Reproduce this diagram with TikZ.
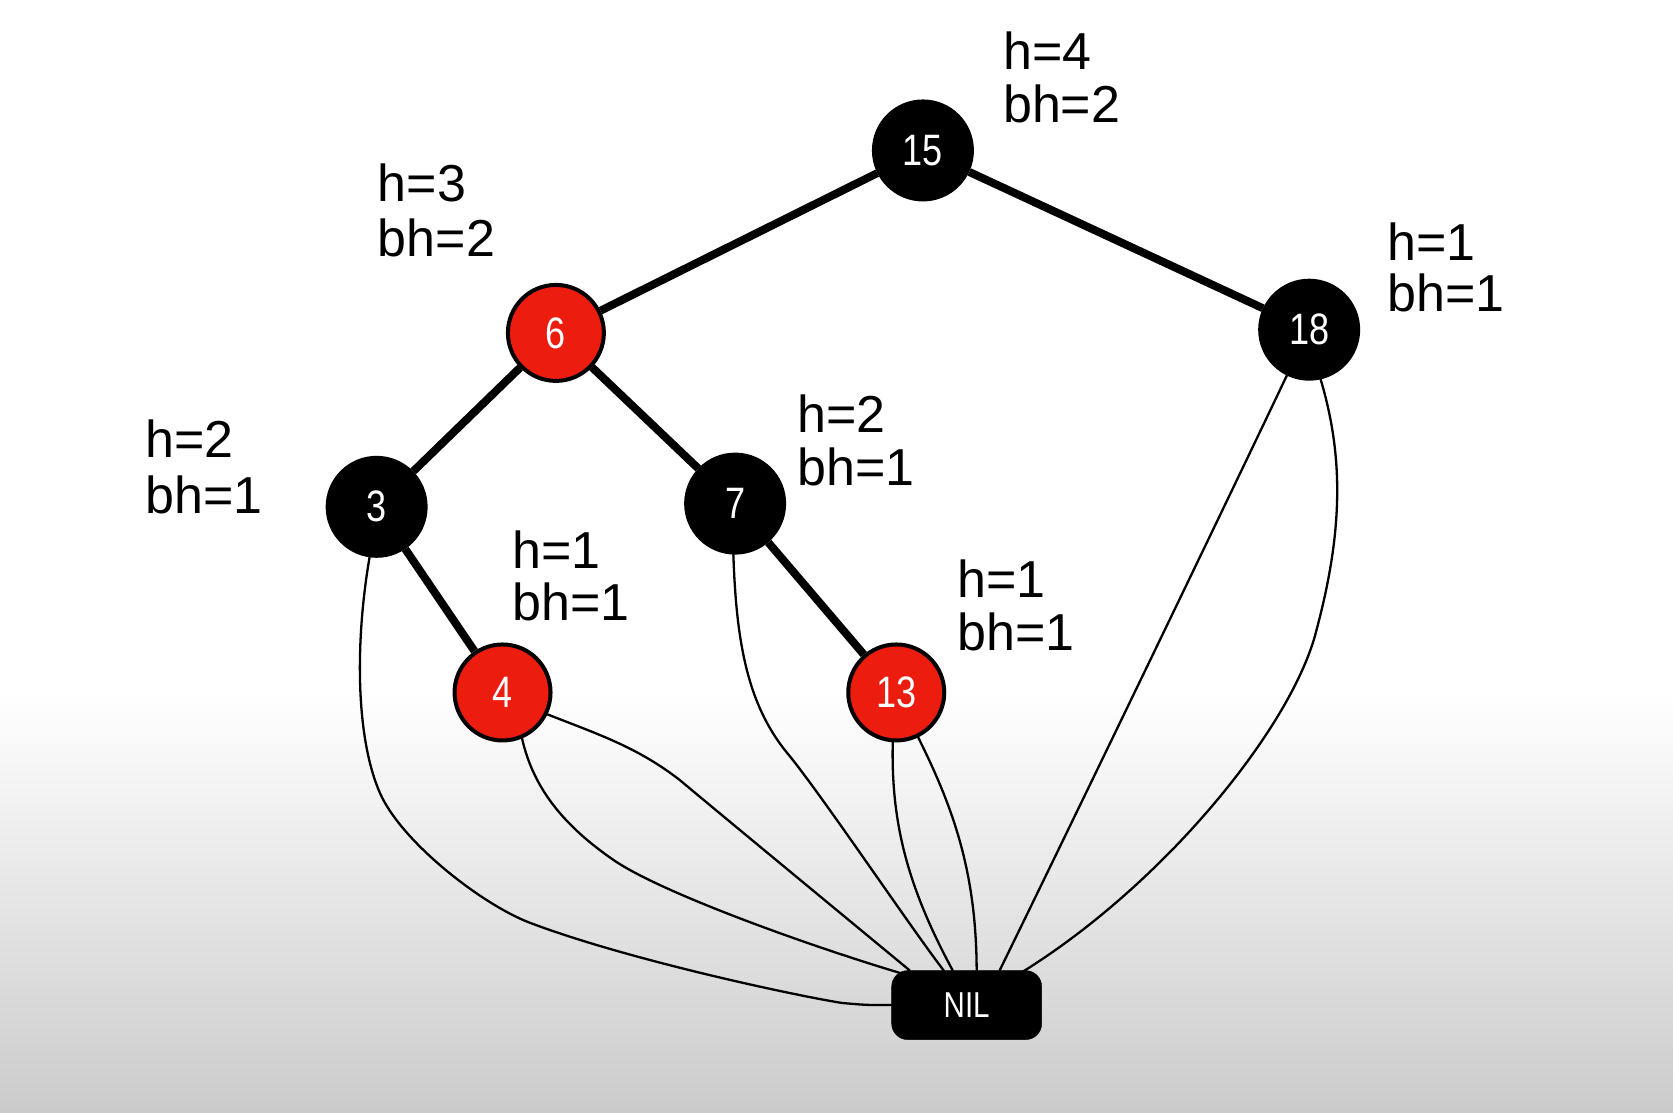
\documentclass[tikz,border=0pt]{standalone}
\usepackage{fontspec}
\setmainfont{Liberation Sans}
\newfontfamily\numfont[FakeStretch=0.82]{Liberation Sans}
\newfontfamily\lblfont{Liberation Sans}
\definecolor{nodered}{RGB}{236,28,14}
\definecolor{bggray}{RGB}{203,203,203}
\begin{document}
\begin{tikzpicture}[x=1.06696pt,y=-1.06696pt,
  treenode/.style={circle,draw=black,line width=4pt,minimum size=98pt,inner sep=0pt,text=white,font=\numfont\fontsize{44}{44}\selectfont},
  blacknode/.style={treenode,fill=black},
  rednode/.style={treenode,fill=nodered,minimum size=96pt},
  nilnode/.style={rectangle,rounded corners=16pt,fill=black,draw=black,minimum width=150pt,minimum height=69pt,inner sep=0pt,text=white,font=\numfont\fontsize{36}{36}\selectfont},
  lbl/.style={anchor=base west,inner sep=0pt,font=\lblfont\fontsize{52}{54}\selectfont},
  treeedge/.style={line width=8pt},
  nilline/.style={line width=2.3pt,line cap=round},
]
\useasboundingbox (0,0) rectangle (1568,1043);
\fill[white] (0,0) rectangle (1568,1043);
\shade[top color=white,bottom color=bggray] (0,650) rectangle (1568,1043);

% nodes
\node[blacknode] (n15) at (865,141) {15};
\node[rednode] (n6) at (521,312) {6};
\node[blacknode] (n18) at (1227,309) {18};
\node[blacknode] (n3) at (353,475) {3};
\node[blacknode] (n7) at (689,472) {7};
\node[rednode] (n4) at (471,649) {4};
\node[rednode] (n13) at (840,649) {13};
\node[nilnode] (nil) at (906,942) {NIL};

% tree edges
\draw[treeedge] (n15) -- (n6);
\draw[treeedge] (n15) -- (n18);
\draw[treeedge] (n6) -- (n3);
\draw[treeedge] (n6) -- (n7);
\draw[treeedge] (n3) -- (n4);
\draw[treeedge] (n7) -- (n13);

% NIL connectors
\draw[nilline] (n3.262) .. controls (333,600) and (333,690) .. (356,743)
  .. controls (376,789) and (452,848) .. (497,865)
  .. controls (587,899) and (740,932) .. (789,940)
  .. controls (812,942) .. (nil.west);
\draw[nilline] (n4.293) .. controls (500,740) and (530,775) .. (575,806)
  .. controls (620,837) and (760,887) .. ([xshift=10pt,yshift=-3pt]nil.north west);
\draw[nilline] (n4.334) .. controls (560,688) and (597,700) .. (637,731)
  .. controls (680,767) and (800,866) .. ([xshift=-57pt]nil.north);
\draw[nilline] (n7.268) .. controls (690,600) and (700,660) .. (738,706)
  .. controls (768,742) and (854,870) .. ([xshift=-23pt]nil.north);
\draw[nilline] (n13.266) .. controls (835,770) and (850,830) .. ([xshift=-14pt]nil.north);
\draw[nilline] (n13.296) .. controls (895,760) and (915,820) .. ([xshift=10pt]nil.north);
\draw[nilline] (n18.244) .. controls (1150,470) and (1010,760) .. ([xshift=33pt]nil.north);
\draw[nilline] (n18.283) .. controls (1260,430) and (1258,500) .. (1234,590)
  .. controls (1212,680) and (1092,828) .. ([xshift=55pt,yshift=-2pt]nil.north);

% labels
\node[lbl] (l15a) at (940,65) {h=4};
\node[lbl] (l15b) at (940,115) {bh=2};
\node[lbl] (l6a) at (354,189) {h=3};
\node[lbl] (l6b) at (354,240) {bh=2};
\node[lbl] (l18a) at (1300,244) {h=1};
\node[lbl] (l18b) at (1300,292) {bh=1};
\node[lbl] (l3a) at (136,429) {h=2};
\node[lbl] (l3b) at (136,481) {bh=1};
\node[lbl] (l7a) at (747,405) {h=2};
\node[lbl] (l7b) at (747,455) {bh=1};
\node[lbl] (l4a) at (480,533) {h=1};
\node[lbl] (l4b) at (480,582) {bh=1};
\node[lbl] (l13a) at (897,560) {h=1};
\node[lbl] (l13b) at (897,610) {bh=1};
\end{tikzpicture}
\end{document}
